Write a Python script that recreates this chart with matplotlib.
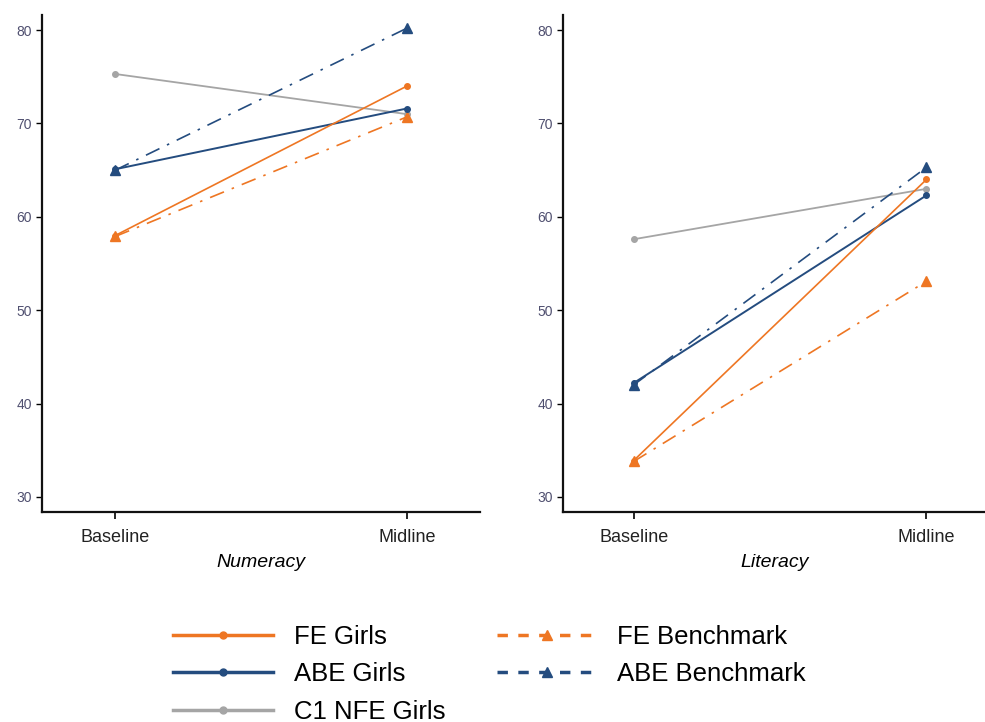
import matplotlib.pyplot as plt
from matplotlib.lines import Line2D

plt.rcParams['font.family'] = ['Liberation Sans', 'DejaVu Sans']

rounds = ['Baseline', 'Midline']

# Numeracy
num_fe_girls = [58.0, 74.0]
num_fe_bench = [57.9, 70.7]
num_abe_girls = [65.1, 71.6]
num_abe_bench = [65.0, 80.2]
num_nfe_girls = [75.3, 71.0]

# Literacy
lit_fe_girls = [33.9, 64.0]
lit_fe_bench = [33.8, 53.1]
lit_abe_girls = [42.2, 62.3]
lit_abe_bench = [42.0, 65.3]
lit_nfe_girls = [57.6, 63.0]

orange = '#EE7623'
navy = '#244C7F'
grey = '#A5A5A5'
bench_ls = (0, (9, 5, 1.5, 5))

fig = plt.figure(figsize=(9.85, 7.22), dpi=100)
ax1 = fig.add_axes([0.043, 0.291, 0.444, 0.688])
ax2 = fig.add_axes([0.572, 0.291, 0.428, 0.688])


def draw(ax, fe_g, fe_b, abe_g, abe_b, nfe_g, label, xlim):
    x = [0, 1]
    ax.plot(x, nfe_g, color=grey, lw=1.3, marker='o', ms=4)
    ax.plot(x, fe_b, color=orange, lw=1.2, ls=bench_ls, marker='^', ms=7)
    ax.plot(x, abe_b, color=navy, lw=1.2, ls=bench_ls, marker='^', ms=7)
    ax.plot(x, abe_g, color=navy, lw=1.4, marker='o', ms=4)
    ax.plot(x, fe_g, color=orange, lw=1.2, marker='o', ms=4)
    ax.set_xlim(*xlim)
    ax.set_ylim(28.4, 81.6)
    ax.set_xticks(x)
    ax.set_xticklabels(rounds, fontsize=13, color='#222222')
    ax.set_yticks([30, 40, 50, 60, 70, 80])
    ax.tick_params(axis='y', labelsize=10, labelcolor='#505070', length=4, width=1)
    ax.tick_params(axis='x', length=5, width=1.2, pad=7)
    ax.set_xlabel(label, fontsize=14, style='italic', labelpad=6)
    for s in ['top', 'right']:
        ax.spines[s].set_visible(False)
    for s in ['left', 'bottom']:
        ax.spines[s].set_linewidth(1.6)
        ax.spines[s].set_color('#111111')


draw(ax1, num_fe_girls, num_fe_bench, num_abe_girls, num_abe_bench,
     num_nfe_girls, 'Numeracy', (-0.25, 1.25))
draw(ax2, lit_fe_girls, lit_fe_bench, lit_abe_girls, lit_abe_bench,
     lit_nfe_girls, 'Literacy', (-0.24, 1.2))

handles = [
    Line2D([], [], color=orange, lw=2.5, marker='o', ms=5),
    Line2D([], [], color=navy, lw=2.5, marker='o', ms=5),
    Line2D([], [], color=grey, lw=2.5, marker='o', ms=5),
    Line2D([], [], color=orange, lw=2.5, ls=(0, (3, 3)), marker='^', ms=7),
    Line2D([], [], color=navy, lw=2.5, ls=(0, (3, 3)), marker='^', ms=7),
    Line2D([], [], color='none'),
]
labels = ['FE Girls', 'ABE Girls', 'C1 NFE Girls', 'FE Benchmark', 'ABE Benchmark', '']
fig.legend(handles, labels, ncol=2, loc='upper center', bbox_to_anchor=(0.497, 0.167),
           frameon=False, fontsize=18.5, handlelength=3.9, handletextpad=0.8,
           columnspacing=2.0, labelspacing=0.53)

plt.savefig('out.png', dpi=100)
